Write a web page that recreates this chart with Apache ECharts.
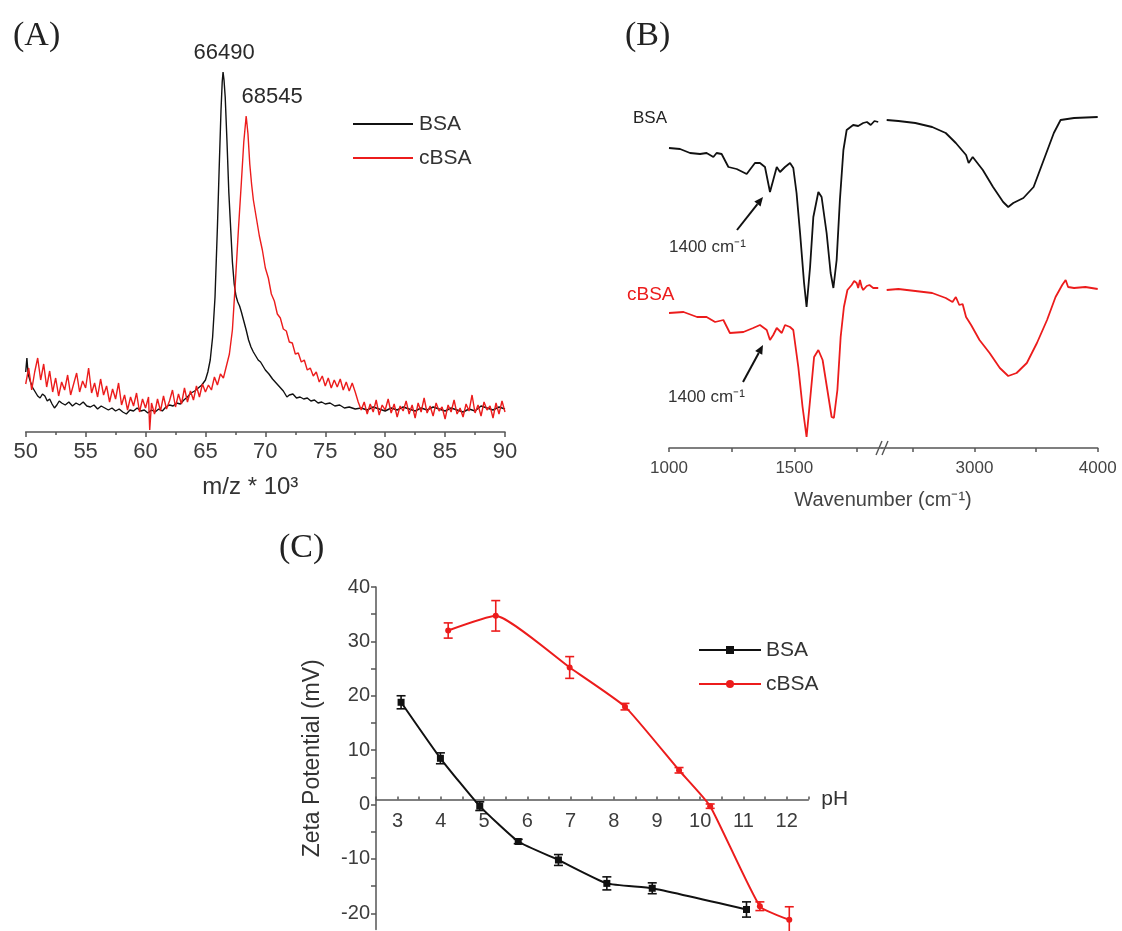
<!DOCTYPE html>
<html>
<head>
<meta charset="utf-8">
<script src="https://cdn.jsdelivr.net/npm/echarts@6/dist/echarts.min.js"></script>
<style>
  html, body { margin: 0; padding: 0; background: #fff; }
  #fig { width: 1122px; height: 931px; }
</style>
</head>
<body>
<div id="fig"></div>
<script>
// (A) MALDI spectra, m/z * 10^3 vs intensity (arbitrary units)
var msBSA = [[50.0,60],[50.1,74],[50.2,58],[50.4,50],[50.6,44],[50.8,40],[51.0,36],[51.2,34],[51.4,38],[51.6,36],[51.8,31],[52.0,33],[52.2,28],[52.4,24],[52.6,27],[52.8,31],[53.0,29],[53.3,27],[53.6,30],[53.9,26],[54.2,29],[54.5,27],[54.8,30],[55.1,26],[55.4,25],[55.7,27],[56.0,23],[56.3,26],[56.6,24],[56.9,22],[57.2,24],[57.5,21],[57.8,23],[58.1,20],[58.4,18],[58.7,22],[59.0,21],[59.3,24],[59.6,21],[59.9,22],[60.2,19],[60.5,22],[60.8,20],[61.1,23],[61.4,21],[61.7,25],[62.0,27],[62.3,26],[62.6,29],[62.9,28],[63.2,32],[63.5,35],[63.8,39],[64.1,41],[64.4,44],[64.7,47],[65.0,52],[65.2,60],[65.4,72],[65.6,95],[65.8,135],[66.0,205],[66.15,265],[66.3,322],[66.4,350],[66.47,360],[66.55,352],[66.65,335],[66.8,290],[66.95,240],[67.1,205],[67.25,170],[67.4,148],[67.55,136],[67.7,130],[67.85,126],[68.0,120],[68.2,111],[68.4,102],[68.6,92],[68.8,85],[69.0,80],[69.2,76],[69.4,72],[69.6,70],[69.8,66],[70.0,62],[70.3,58],[70.6,53],[70.9,49],[71.2,45],[71.5,41],[71.8,35],[72.0,37],[72.3,38],[72.6,34],[72.9,35],[73.2,33],[73.5,34],[73.8,31],[74.1,32],[74.4,29],[74.7,30],[75.0,28],[75.4,29],[75.8,26],[76.2,27],[76.6,24],[77.0,25],[77.5,23],[78.0,24],[78.5,22],[79.0,25],[79.5,23],[80.0,21],[80.5,24],[81.0,22],[81.5,25],[82.0,23],[82.5,21],[83.0,24],[83.5,22],[84.0,25],[84.5,23],[85.0,21],[85.5,24],[86.0,22],[86.5,20],[87.0,23],[87.5,21],[88.0,26],[88.5,24],[89.0,22],[89.5,25],[90.0,23]];
var msCBSA = [[50.0,48],[50.25,64],[50.5,42],[50.75,60],[51.0,74],[51.25,52],[51.5,68],[51.75,45],[52.0,61],[52.25,40],[52.5,54],[52.75,36],[53.0,50],[53.25,42],[53.5,57],[53.75,37],[54.0,48],[54.25,59],[54.5,40],[54.75,51],[55.0,44],[55.25,64],[55.5,39],[55.75,49],[56.0,35],[56.25,53],[56.5,37],[56.75,46],[57.0,30],[57.25,43],[57.5,33],[57.75,49],[58.0,27],[58.25,37],[58.5,22],[58.75,35],[59.0,26],[59.25,39],[59.5,20],[59.75,33],[60.0,24],[60.25,35],[60.35,2],[60.5,29],[60.75,18],[61.0,33],[61.25,21],[61.5,36],[61.75,23],[62.0,31],[62.25,42],[62.5,25],[62.75,38],[63.0,28],[63.25,44],[63.5,30],[63.75,41],[64.0,32],[64.25,46],[64.5,35],[64.75,48],[65.0,40],[65.25,47],[65.5,42],[65.75,55],[66.0,47],[66.25,58],[66.5,54],[66.75,66],[67.0,78],[67.25,102],[67.5,150],[67.75,202],[68.0,250],[68.2,290],[68.4,316],[68.55,298],[68.7,268],[68.85,248],[69.0,232],[69.25,214],[69.5,196],[69.75,182],[70.0,164],[70.25,154],[70.5,138],[70.75,131],[71.0,118],[71.25,114],[71.5,103],[71.75,101],[72.0,90],[72.25,89],[72.5,78],[72.75,79],[73.0,70],[73.25,72],[73.5,62],[73.75,64],[74.0,56],[74.25,60],[74.5,50],[74.75,56],[75.0,46],[75.25,54],[75.5,44],[75.75,52],[76.0,45],[76.25,53],[76.5,42],[76.75,50],[77.0,41],[77.25,49],[77.5,40],[77.75,30],[78.0,22],[78.25,30],[78.5,18],[78.75,28],[79.0,20],[79.25,32],[79.5,17],[79.75,27],[80.0,22],[80.25,33],[80.5,19],[80.75,28],[81.0,15],[81.25,26],[81.5,21],[81.75,31],[82.0,18],[82.25,27],[82.5,14],[82.75,29],[83.0,20],[83.25,34],[83.5,19],[83.75,26],[84.0,16],[84.25,29],[84.5,21],[84.75,25],[85.0,13],[85.25,27],[85.5,20],[85.75,32],[86.0,18],[86.25,24],[86.5,15],[86.75,28],[87.0,21],[87.25,37],[87.5,19],[87.75,27],[88.0,16],[88.25,30],[88.5,22],[88.75,26],[89.0,14],[89.25,29],[89.5,18],[89.75,31],[90.0,20]];
var msPeaks = [[66.47,360,'66490'],[68.4,316,'68545']];
var msTicks = [50,55,60,65,70,75,80,85,90];

// (B) FTIR, wavenumber vs transmittance (offset, arbitrary units), broken axis
var irBSA_lo = [[1000,300],[1044,299],[1084,295],[1124,294],[1150,295],[1177,291],[1190,295],[1210,294],[1237,281],[1270,279],[1310,274],[1343,285],[1363,285],[1383,281],[1403,256],[1416,268],[1430,281],[1443,276],[1463,281],[1483,285],[1496,280],[1509,255],[1523,215],[1539,165],[1549,141],[1563,181],[1576,231],[1596,256],[1609,251],[1629,215],[1645,175],[1656,160],[1669,188],[1682,248],[1696,298],[1709,318],[1735,323],[1755,322],[1775,325],[1790,326],[1805,323],[1820,327],[1835,326]];
var irBSA_hi = [[2288,328],[2383,327],[2520,325],[2657,321],[2767,315],[2849,305],[2932,293],[2953,285],[2986,291],[3068,278],[3151,261],[3233,246],[3274,241],[3315,245],[3397,250],[3480,261],[3562,288],[3644,315],[3699,328],[3808,330],[4000,331]];
var irCBSA_lo = [[1000,135],[1058,136],[1112,131],[1150,131],[1184,126],[1217,128],[1243,115],[1297,116],[1336,120],[1363,123],[1390,118],[1403,108],[1416,113],[1430,120],[1450,115],[1463,123],[1483,121],[1496,118],[1516,81],[1533,41],[1549,11],[1563,48],[1579,91],[1596,98],[1613,88],[1632,58],[1649,31],[1658,30],[1672,58],[1685,111],[1698,141],[1712,158],[1729,163],[1739,167],[1749,165],[1755,160],[1762,168],[1769,161],[1775,158],[1789,162],[1800,163],[1815,160],[1835,160]];
var irCBSA_hi = [[2288,158],[2383,159],[2520,157],[2657,155],[2767,150],[2822,146],[2849,151],[2877,143],[2904,144],[2932,131],[2973,123],[3041,108],[3123,95],[3206,80],[3274,72],[3342,75],[3425,85],[3507,105],[3589,128],[3658,151],[3712,163],[3740,168],[3760,161],[3808,160],[3900,161],[4000,159]];
var irLabelsLo = [1000,1500];
var irTicksLo = [1000,1250,1500,1750];
var irLabelsHi = [3000,4000];
var irTicksHi = [2500,3000,3500,4000];

// (C) zeta potential vs pH
var bsaPH   = [3.08, 3.99, 4.90, 5.79, 6.72, 7.84, 8.89, 11.07];
var bsaZeta = [18.8, 8.5, -0.3, -6.8, -10.2, -14.5, -15.4, -19.3];
var bsaErr  = [1.2, 1.0, 0.8, 0.4, 1.0, 1.2, 1.0, 1.4];
var cbsaPH   = [4.17, 5.27, 6.98, 8.26, 9.51, 10.23, 11.38, 12.06];
var cbsaZeta = [32.0, 34.7, 25.2, 18.0, 6.3, -0.3, -18.7, -21.2];
var cbsaErr  = [1.4, 2.8, 2.0, 0.6, 0.5, 0.4, 0.8, 2.4];
var zetaLabels = [-20,-10,0,10,20,30,40];
var zetaTicks = [-20,-15,-10,-5,0,5,10,15,20,25,30,35,40];

var RED = '#ec1c1c';
var BLACK = '#111';
var SANS = 'Liberation Sans';
var SERIF = 'Liberation Serif';

function pairs(xs, ys){
  var out = [];
  for(var i=0;i<xs.length;i++){ out.push([xs[i], ys[i]]); }
  return out;
}
function errData(xs, ys, es){
  var out = [];
  for(var i=0;i<xs.length;i++){ out.push([xs[i], ys[i]-es[i], ys[i]+es[i]]); }
  return out;
}
function errSeries(name, data, color){
  return {
    name: name, type: 'custom', xAxisIndex: 3, yAxisIndex: 3, z: 4,
    data: data,
    renderItem: function(params, api){
      var lo = api.coord([api.value(0), api.value(1)]);
      var hi = api.coord([api.value(0), api.value(2)]);
      var w = 4.5;
      var st = {stroke: color, lineWidth: 1.6};
      return {type: 'group', children: [
        {type: 'line', shape: {x1: lo[0], y1: lo[1], x2: hi[0], y2: hi[1]}, style: st},
        {type: 'line', shape: {x1: lo[0]-w, y1: lo[1], x2: lo[0]+w, y2: lo[1]}, style: st},
        {type: 'line', shape: {x1: hi[0]-w, y1: hi[1], x2: hi[0]+w, y2: hi[1]}, style: st}
      ]};
    }
  };
}
function plain(v){ return String(v); }
function arrow(x1, y1, x2, y2){
  var dx = x2-x1, dy = y2-y1, L = Math.sqrt(dx*dx+dy*dy);
  var ux = dx/L, uy = dy/L, hl = 9, hw = 4;
  var bx = x2-ux*hl, by = y2-uy*hl;
  return {type: 'group', children: [
    {type: 'line', shape: {x1: x1, y1: y1, x2: bx, y2: by}, style: {stroke: '#111', lineWidth: 2}},
    {type: 'polygon', shape: {points: [[x2,y2],[bx-uy*hw, by+ux*hw],[bx+uy*hw, by-ux*hw]]}, style: {fill: '#111'}}
  ]};
}

var axisGray = '#555';
var labGray = '#3c3c3c';
var lineIcon = 'path://M0,0 L60,0 L60,2 L0,2 Z';

var myChart = echarts.init(document.getElementById('fig'), null, {renderer: 'canvas'});
var option = {
  backgroundColor: '#fff',
  animation: false,
  textStyle: {fontFamily: SANS},
  title: [
    {text: '(A)', left: 8, top: 14, textStyle: {fontFamily: SERIF, fontWeight: 'normal', fontSize: 34, color: '#222'}},
    {text: '(B)', left: 620, top: 14, textStyle: {fontFamily: SERIF, fontWeight: 'normal', fontSize: 34, color: '#222'}},
    {text: '(C)', left: 274, top: 526, textStyle: {fontFamily: SERIF, fontWeight: 'normal', fontSize: 34, color: '#222'}}
  ],
  legend: [
    {left: 353, top: 113, orient: 'vertical', padding: 0, itemWidth: 62, itemHeight: 2, itemGap: 12,
     data: [{name: 'BSA', icon: lineIcon}, {name: 'cBSA', icon: lineIcon}],
     textStyle: {fontSize: 21, color: '#333', lineHeight: 22}},
    {left: 698, top: 639, orient: 'vertical', padding: 0, itemWidth: 62, itemHeight: 10, itemGap: 12,
     data: ['BSA·C', 'cBSA·C'], formatter: function(n){ return n.replace('·C',''); },
     textStyle: {fontSize: 21, color: '#333', lineHeight: 22}}
  ],
  grid: [
    {left: 25.7, right: 617, top: 62, bottom: 499},
    {left: 669, width: 213, top: 48, bottom: 483},
    {left: 882, width: 215.7, top: 48, bottom: 483},
    {left: 376, right: 313.7, top: 587, bottom: 1.4}
  ],
  xAxis: [
    {gridIndex: 0, type: 'value', min: 50, max: 90, interval: 5, splitLine: {show: false},
     name: 'm/z * 10³', nameLocation: 'middle', nameGap: 43,
     nameTextStyle: {fontSize: 24, color: '#333', padding: [0, 30, 0, 0]},
     axisLine: {lineStyle: {color: axisGray, width: 1.5}},
     axisTick: {length: 5, lineStyle: {color: axisGray, width: 1.5}},
     minorTick: {show: true, splitNumber: 2, length: 3, lineStyle: {color: axisGray, width: 1.5}},
     axisLabel: {fontSize: 22, color: labGray, margin: 9, customValues: msTicks, formatter: plain}},
    {gridIndex: 1, type: 'value', min: 1000, max: 1850, splitLine: {show: false},
     axisLine: {lineStyle: {color: axisGray, width: 1.5}},
     axisTick: {length: 4, customValues: irTicksLo, lineStyle: {color: axisGray, width: 1.5}},
     axisLabel: {fontSize: 17, color: '#444', margin: 12, customValues: irLabelsLo, formatter: plain}},
    {gridIndex: 2, type: 'value', min: 2250, max: 4000, splitLine: {show: false},
     axisLine: {lineStyle: {color: axisGray, width: 1.5}},
     axisTick: {length: 4, customValues: irTicksHi, lineStyle: {color: axisGray, width: 1.5}},
     axisLabel: {fontSize: 17, color: '#444', margin: 12, customValues: irLabelsHi, formatter: plain}},
    {gridIndex: 3, type: 'value', min: 2.5, max: 12.5, interval: 0.5, splitLine: {show: false},
     position: 'bottom', offset: -130,
     axisLine: {onZero: false, lineStyle: {color: axisGray, width: 1.5}},
     axisTick: {inside: true, length: 3, lineStyle: {color: axisGray, width: 1.5}},
     axisLabel: {fontSize: 20, color: labGray, margin: 12,
                 formatter: function(v){ return Math.round(v) === v ? String(v) : ''; }},
     name: 'pH', nameLocation: 'end', nameGap: 13, nameTextStyle: {fontSize: 21, color: '#333'}}
  ],
  yAxis: [
    {gridIndex: 0, type: 'value', min: 0, max: 370, show: false},
    {gridIndex: 1, type: 'value', min: 0, max: 400, show: false},
    {gridIndex: 2, type: 'value', min: 0, max: 400, show: false},
    {gridIndex: 3, type: 'value', min: -23, max: 40, splitLine: {show: false},
     name: 'Zeta Potential (mV)', nameLocation: 'middle', nameGap: 52,
     nameTextStyle: {fontSize: 23, color: '#333'},
     axisLine: {onZero: false, lineStyle: {color: axisGray, width: 1.5}},
     axisTick: {length: 5, customValues: zetaTicks, lineStyle: {color: axisGray, width: 1.5}},
     axisLabel: {fontSize: 20, color: labGray, margin: 6, customValues: zetaLabels, formatter: plain}}
  ],
  series: [
    {name: 'BSA', type: 'line', xAxisIndex: 0, yAxisIndex: 0, data: msBSA, showSymbol: false, symbol: 'none',
     lineStyle: {color: BLACK, width: 1.4}, itemStyle: {color: BLACK}, z: 2},
    {name: 'cBSA', type: 'line', xAxisIndex: 0, yAxisIndex: 0, data: msCBSA, showSymbol: false, symbol: 'none',
     lineStyle: {color: RED, width: 1.4}, itemStyle: {color: RED}, z: 3},

    {name: 'BSA·B1', type: 'line', xAxisIndex: 1, yAxisIndex: 1, data: irBSA_lo, symbol: 'none',
     lineStyle: {color: BLACK, width: 1.8}},
    {name: 'BSA·B2', type: 'line', xAxisIndex: 2, yAxisIndex: 2, data: irBSA_hi, symbol: 'none',
     lineStyle: {color: BLACK, width: 1.8}},
    {name: 'cBSA·B1', type: 'line', xAxisIndex: 1, yAxisIndex: 1, data: irCBSA_lo, symbol: 'none',
     lineStyle: {color: RED, width: 1.8}},
    {name: 'cBSA·B2', type: 'line', xAxisIndex: 2, yAxisIndex: 2, data: irCBSA_hi, symbol: 'none',
     lineStyle: {color: RED, width: 1.8}},

    {name: 'BSA·C', type: 'line', xAxisIndex: 3, yAxisIndex: 3, data: pairs(bsaPH, bsaZeta), smooth: 0.15,
     symbol: 'rect', symbolSize: 7, lineStyle: {color: BLACK, width: 2}, itemStyle: {color: BLACK}, z: 5},
    {name: 'cBSA·C', type: 'line', xAxisIndex: 3, yAxisIndex: 3, data: pairs(cbsaPH, cbsaZeta), smooth: 0.15,
     symbol: 'circle', symbolSize: 6, lineStyle: {color: RED, width: 2}, itemStyle: {color: RED}, z: 5},
    errSeries('BSA·C err', errData(bsaPH, bsaZeta, bsaErr), BLACK),
    errSeries('cBSA·C err', errData(cbsaPH, cbsaZeta, cbsaErr), RED)
  ]
};
myChart.setOption(option);

// peak labels in (A), placed from the data via the chart's own scale
var g = [];
for(var i=0;i<msPeaks.length;i++){
  var p = myChart.convertToPixel({gridIndex: 0}, [msPeaks[i][0], msPeaks[i][1]]);
  g.push({type: 'text', x: p[0] + (i==0 ? 1 : 26), y: p[1] - 8,
    style: {text: msPeaks[i][2], fontSize: 22, fontFamily: SANS, fill: '#2a2a2a', align: 'center', verticalAlign: 'bottom'}});
}
// annotations in (B)
g.push({type: 'text', x: 633, y: 118, style: {text: 'BSA', fontSize: 17, fontFamily: SANS, fill: '#222', verticalAlign: 'middle'}});
g.push({type: 'text', x: 627, y: 295, style: {text: 'cBSA', fontSize: 19, fontFamily: SANS, fill: RED, verticalAlign: 'middle'}});
g.push({type: 'text', x: 669, y: 247, style: {text: '1400 cm⁻¹', fontSize: 17, fontFamily: SANS, fill: '#333', verticalAlign: 'middle'}});
g.push({type: 'text', x: 668, y: 397, style: {text: '1400 cm⁻¹', fontSize: 17, fontFamily: SANS, fill: '#333', verticalAlign: 'middle'}});
g.push(arrow(737, 230, 763, 197));
g.push(arrow(743, 382, 763, 345));
g.push({type: 'text', x: 883, y: 500, style: {text: 'Wavenumber (cm⁻¹)', fontSize: 20, fontFamily: SANS, fill: '#444', align: 'center', verticalAlign: 'middle'}});
// axis break mark
g.push({type: 'line', shape: {x1: 876, y1: 455, x2: 882, y2: 441}, style: {stroke: '#555', lineWidth: 1.4}});
g.push({type: 'line', shape: {x1: 882, y1: 455, x2: 888, y2: 441}, style: {stroke: '#555', lineWidth: 1.4}});
myChart.setOption({graphic: g});
</script>
</body>
</html>
